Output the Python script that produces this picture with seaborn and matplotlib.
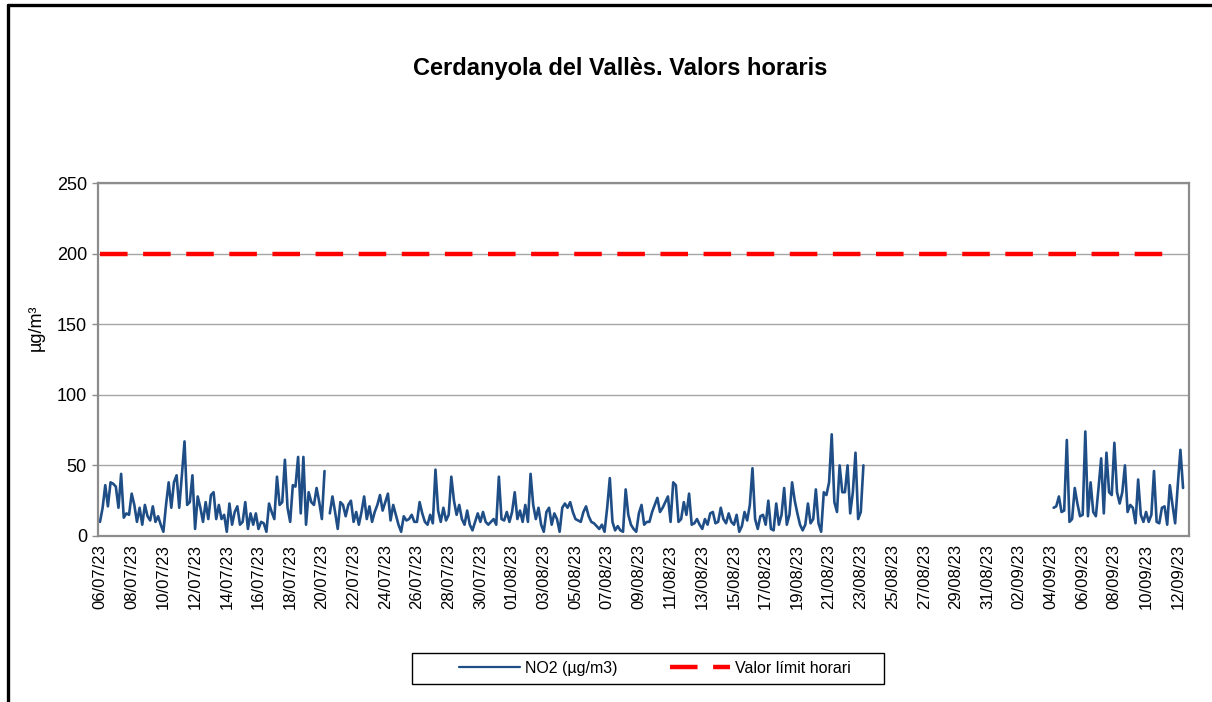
import pandas as pd
import numpy as np
import matplotlib
matplotlib.use("Agg")
import matplotlib.pyplot as plt
import matplotlib.dates as mdates
from matplotlib.patches import Rectangle
from matplotlib.lines import Line2D
import seaborn as sns

sns.set_theme(style="white")
plt.rcParams['font.family'] = ['Liberation Sans', 'DejaVu Sans']

# NO2 readings every 4 hours (ug/m3)
inici_juliol = '2023-07-06 00:00'
no2_jul_ago = [
    10, 20, 36, 21, 38, 37, 35, 20, 44, 13,
    16, 15, 30, 22, 10, 20, 8, 22, 14, 11,
    21, 10, 14, 8, 3, 22, 38, 20, 38, 43,
    20, 43, 67, 22, 24, 43, 5, 28, 20, 10,
    24, 12, 29, 31, 12, 22, 12, 15, 3, 23,
    8, 17, 21, 8, 10, 24, 5, 16, 8, 16,
    5, 10, 9, 3, 23, 17, 12, 42, 22, 24,
    54, 20, 10, 36, 35, 56, 16, 56, 8, 31,
    24, 22, 34, 24, 12, 46, None, 16, 28, 17,
    5, 24, 22, 14, 22, 25, 10, 17, 8, 17,
    28, 12, 21, 10, 17, 22, 29, 18, 24, 30,
    11, 22, 15, 8, 3, 14, 11, 12, 15, 10,
    10, 24, 16, 10, 8, 15, 9, 47, 18, 10,
    20, 11, 15, 42, 25, 15, 22, 12, 8, 18,
    8, 4, 10, 16, 10, 17, 10, 8, 10, 12,
    8, 42, 12, 11, 17, 10, 17, 31, 12, 18,
    10, 22, 10, 44, 22, 12, 20, 8, 3, 17,
    20, 8, 16, 12, 3, 20, 23, 20, 24, 17,
    12, 11, 10, 17, 21, 14, 10, 9, 7, 5,
    8, 3, 20, 41, 10, 4, 7, 4, 3, 33,
    15, 8, 5, 3, 16, 22, 8, 10, 10, 17,
    22, 27, 17, 20, 24, 28, 10, 38, 36, 10,
    12, 24, 15, 30, 8, 9, 12, 8, 5, 12,
    8, 16, 17, 9, 10, 20, 12, 9, 16, 10,
    8, 15, 3, 7, 17, 11, 22, 48, 12, 5,
    14, 15, 8, 25, 5, 4, 23, 8, 15, 34,
    8, 15, 38, 25, 16, 8, 4, 8, 23, 9,
    12, 33, 9, 3, 31, 29, 38, 72, 24, 17,
    50, 31, 31, 50, 16, 31, 59, 12, 17, 50,
]

inici_setembre = '2023-09-04 04:00'
no2_set = [
    20, 21, 28, 17, 18, 68, 10, 12, 34, 23,
    14, 15, 74, 14, 38, 17, 14, 34, 55, 16,
    59, 31, 29, 66, 31, 23, 31, 50, 17, 22,
    20, 9, 40, 15, 10, 17, 10, 15, 46, 10,
    9, 20, 21, 8, 36, 22, 9, 36, 61, 34,
]

limit_dates = ['2023-07-06 00:00', '2023-09-11 07:00']
limit_values = [200, 200]

y_ticks = [0, 50, 100, 150, 200, 250]


def preparar_dades():
    s1 = pd.Series(no2_jul_ago, dtype=float,
                   index=pd.date_range(inici_juliol, periods=len(no2_jul_ago), freq='4h'))
    s2 = pd.Series(no2_set, dtype=float,
                   index=pd.date_range(inici_setembre, periods=len(no2_set), freq='4h'))
    full = pd.concat([s1, s2]).asfreq('4h')
    df = pd.DataFrame({'Data': full.index, 'NO2': full.values})
    df['tram'] = df['NO2'].isna().cumsum()
    return df.dropna()


def dibuixar(df):
    W, H = 1212, 702
    fig = plt.figure(figsize=(W / 100, H / 100), dpi=100)
    ax = fig.add_axes([98 / W, 1 - 536 / H, (1189 - 98) / W, (536 - 183) / H])

    blau = '#1F4E87'
    vermell = '#FF0000'
    guions = (6.2, 3.5)
    sns.lineplot(data=df, x='Data', y='NO2', units='tram', estimator=None,
                 color=blau, linewidth=1.9, ax=ax)

    df_lim = pd.DataFrame({'Data': pd.to_datetime(limit_dates), 'Valor': limit_values})
    sns.lineplot(data=df_lim, x='Data', y='Valor', color=vermell, linewidth=3.2,
                 ax=ax, zorder=3)
    ax.lines[-1].set_dashes(guions)
    ax.lines[-1].set_solid_capstyle('butt')

    ax.set_ylim(0, 250)
    ax.set_yticks(y_ticks)
    ax.set_xlim(pd.Timestamp('2023-07-05 21:00'), pd.Timestamp('2023-09-12 17:00'))
    ticks = pd.date_range('2023-07-06', '2023-09-12', freq='2D')
    ax.set_xticks(ticks)
    ax.set_xticklabels([t.strftime('%d/%m/%y') for t in ticks], rotation=90)

    ax.grid(axis='y', color='#A6A6A6', linewidth=1)
    ax.set_axisbelow(True)
    for sp in ax.spines.values():
        sp.set_color('#8C8C8C')
        sp.set_linewidth(1.6)
    ax.tick_params(axis='y', labelsize=13, length=4, width=1, color='#8C8C8C',
                   left=True, pad=4, labelcolor='black')
    ax.tick_params(axis='x', labelsize=12, length=0, pad=6, labelcolor='black')

    ax.set_xlabel('')
    ax.set_ylabel('')
    fig.text(36 / W, 1 - 328 / H, 'µg/m³', rotation=90, ha='center', va='center',
             fontsize=13, color='black')

    fig.text(620 / W, 1 - 68 / H, 'Cerdanyola del Vallès. Valors horaris',
             ha='center', va='center', fontsize=17, fontweight='bold', color='black')

    # legend box
    fig.patches.append(Rectangle((412 / W, 1 - 684 / H), (884 - 412) / W, (684 - 653) / H,
                                 transform=fig.transFigure, fill=False,
                                 edgecolor='black', linewidth=1))
    handles = [Line2D([], [], color=blau, linewidth=1.6),
               Line2D([], [], color=vermell, linewidth=3.2, dashes=guions,
                      solid_capstyle='butt')]
    fig.legend(handles, ['NO2 (µg/m3)', 'Valor límit horari'], ncol=2,
               loc='center', bbox_to_anchor=(655 / W, 1 - 668.5 / H),
               frameon=False, fontsize=11.5, handlelength=3.8, handletextpad=0.3,
               columnspacing=3.3, labelcolor='black')

    # outer chart frame (cut on right and bottom)
    fig.add_artist(Line2D([8 / W, 8 / W], [0, 1 - 5 / H], transform=fig.transFigure,
                          color='black', linewidth=2.4))
    fig.add_artist(Line2D([8 / W, 1], [1 - 5 / H, 1 - 5 / H], transform=fig.transFigure,
                          color='black', linewidth=2.4))

    fig.savefig('out.png', dpi=100)


def main():
    df = preparar_dades()
    dibuixar(df)


if __name__ == "__main__":
    main()
